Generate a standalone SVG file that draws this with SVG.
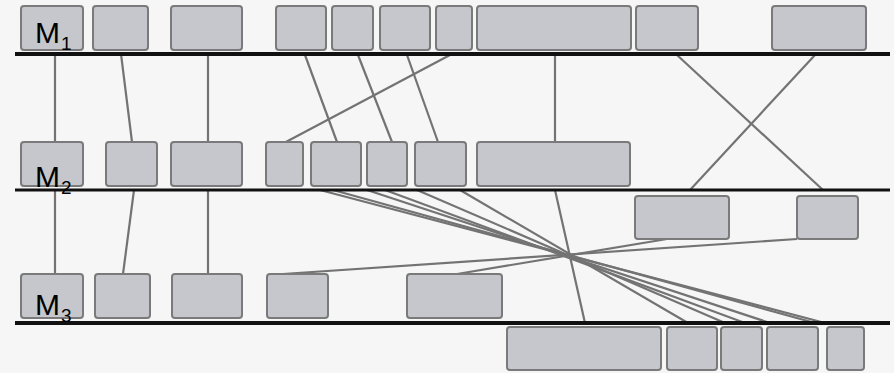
<svg xmlns="http://www.w3.org/2000/svg" width="894" height="373" viewBox="0 0 894 373">
<style>
.bg{fill:#f6f6f6}
.box{fill:#c5c7cc;stroke:#7a7a7a;stroke-width:2}
.con{stroke:#737373;stroke-width:2.2;fill:none}
.bus{stroke:#111;stroke-width:4}
.lbl{font-family:"Liberation Sans",Arial,sans-serif;font-size:30px;fill:#000}
.sub{font-size:19px}
</style>
<rect class="bg" x="0" y="0" width="894" height="373"/>
<g id="connectors">
<line class="con" x1="55" y1="54" x2="55" y2="142"/>
<line class="con" x1="121" y1="54" x2="132" y2="142"/>
<line class="con" x1="208" y1="54" x2="208" y2="142"/>
<line class="con" x1="305" y1="55" x2="337" y2="142"/>
<line class="con" x1="358" y1="55" x2="392" y2="142"/>
<line class="con" x1="407" y1="55" x2="438" y2="142"/>
<line class="con" x1="450" y1="55" x2="284" y2="143"/>
<line class="con" x1="555" y1="55" x2="555" y2="142"/>
<line class="con" x1="677" y1="55" x2="823" y2="190"/>
<line class="con" x1="815" y1="55" x2="690" y2="190"/>
<line class="con" x1="55" y1="190" x2="55" y2="274"/>
<line class="con" x1="134" y1="190" x2="123" y2="274"/>
<line class="con" x1="208" y1="190" x2="208" y2="274"/>
<line class="con" x1="320" y1="190" x2="825" y2="323"/>
<line class="con" x1="333" y1="190" x2="815" y2="323"/>
<line class="con" x1="367" y1="190" x2="770" y2="323"/>
<line class="con" x1="385" y1="190" x2="745" y2="323"/>
<line class="con" x1="417" y1="190" x2="725" y2="323"/>
<line class="con" x1="460" y1="190" x2="688" y2="323"/>
<line class="con" x1="555" y1="190" x2="585" y2="323"/>
<line class="con" x1="797" y1="239" x2="268" y2="275"/>
<line class="con" x1="667" y1="239" x2="457" y2="274"/>
</g>
<g id="row1">
<g id="n1a"><rect class="box" x="21" y="6" width="62" height="44" rx="3"/></g>
<g id="n1b"><rect class="box" x="93" y="6" width="55" height="44" rx="3"/></g>
<g id="n1c"><rect class="box" x="171" y="6" width="71" height="44" rx="3"/></g>
<g id="n1d"><rect class="box" x="276" y="6" width="50" height="44" rx="3"/></g>
<g id="n1e"><rect class="box" x="332" y="6" width="41" height="44" rx="3"/></g>
<g id="n1f"><rect class="box" x="380" y="6" width="50" height="44" rx="3"/></g>
<g id="n1g"><rect class="box" x="436" y="6" width="36" height="44" rx="3"/></g>
<g id="n1h"><rect class="box" x="477" y="6" width="154" height="44" rx="3"/></g>
<g id="n1i"><rect class="box" x="636" y="6" width="62" height="44" rx="3"/></g>
<g id="n1j"><rect class="box" x="772" y="6" width="94" height="44" rx="3"/></g>
</g>
<g id="row2">
<g id="n2a"><rect class="box" x="21" y="142" width="62" height="44" rx="3"/></g>
<g id="n2b"><rect class="box" x="106" y="142" width="51" height="44" rx="3"/></g>
<g id="n2c"><rect class="box" x="171" y="142" width="71" height="44" rx="3"/></g>
<g id="n2d"><rect class="box" x="266" y="142" width="37" height="44" rx="3"/></g>
<g id="n2e"><rect class="box" x="311" y="142" width="50" height="44" rx="3"/></g>
<g id="n2f"><rect class="box" x="367" y="142" width="40" height="44" rx="3"/></g>
<g id="n2g"><rect class="box" x="415" y="142" width="51" height="44" rx="3"/></g>
<g id="n2h"><rect class="box" x="477" y="142" width="153" height="44" rx="3"/></g>
<g id="n2i"><rect class="box" x="635" y="196" width="94" height="43" rx="3"/></g>
<g id="n2j"><rect class="box" x="797" y="196" width="61" height="43" rx="3"/></g>
</g>
<g id="row3">
<g id="n3a"><rect class="box" x="21" y="274" width="62" height="44" rx="3"/></g>
<g id="n3b"><rect class="box" x="95" y="274" width="55" height="44" rx="3"/></g>
<g id="n3c"><rect class="box" x="172" y="274" width="70" height="44" rx="3"/></g>
<g id="n3d"><rect class="box" x="267" y="274" width="61" height="44" rx="3"/></g>
<g id="n3e"><rect class="box" x="407" y="274" width="95" height="44" rx="3"/></g>
<g id="n3f"><rect class="box" x="507" y="327" width="154" height="43" rx="3"/></g>
<g id="n3g"><rect class="box" x="667" y="327" width="50" height="43" rx="3"/></g>
<g id="n3h"><rect class="box" x="721" y="327" width="41" height="43" rx="3"/></g>
<g id="n3i"><rect class="box" x="767" y="327" width="51" height="43" rx="3"/></g>
<g id="n3j"><rect class="box" x="827" y="327" width="37" height="43" rx="3"/></g>
</g>
<g id="buses">
<line class="bus" x1="15" y1="54" x2="890" y2="54"/>
<line class="bus" x1="15" y1="190" x2="890" y2="190" style="stroke-width:3"/>
<line class="bus" x1="15" y1="323" x2="890" y2="323"/>
</g>
<g id="labels">
<text class="lbl" x="35" y="43">M<tspan class="sub" x="61" y="50">1</tspan></text>
<text class="lbl" x="35" y="187">M<tspan class="sub" x="61" y="194">2</tspan></text>
<text class="lbl" x="35" y="315">M<tspan class="sub" x="61" y="322">3</tspan></text>
</g>
</svg>
